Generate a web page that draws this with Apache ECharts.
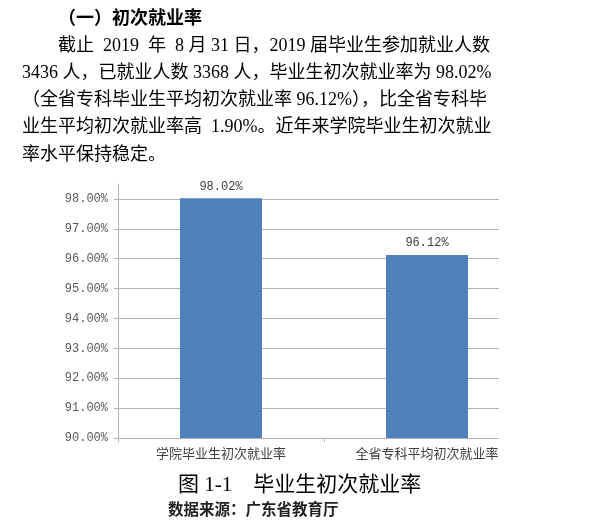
<!DOCTYPE html>
<html><head><meta charset="utf-8">
<script src="https://cdn.jsdelivr.net/npm/echarts@6/dist/echarts.min.js"></script>
<style>html,body{margin:0;padding:0;background:#fff}#c{width:614px;height:527px}</style>
</head><body><div id="c"></div>
<script>
const categories = ['学院毕业生初次就业率', '全省专科平均初次就业率'];
const rates = [98.02, 96.12];
const yTicks = [90, 91, 92, 93, 94, 95, 96, 97, 98];
const heading = '（一）初次就业率';
const paragraph = [
  '截止\u20022019\u2002年\u20028 月 31 日，2019 届毕业生参加就业人数',
  '3436 人，已就业人数 3368 人，毕业生初次就业率为 98.02%',
  '（全省专科毕业生平均初次就业率 96.12%），比全省专科毕',
  '业生平均初次就业率高\u20021.90%。近年来学院毕业生初次就业',
  '率水平保持稳定。'
];
const caption = '图 1-1　毕业生初次就业率';
const source = '数据来源：广东省教育厅';

const serif = '"Liberation Serif", "Noto Sans CJK SC", serif';
const mono = '"Liberation Mono", "DejaVu Sans Mono", monospace';
const cjk = '"Noto Sans CJK SC", sans-serif';

const gfx = [];
gfx.push({type:'text', left:58, top:8, style:{text:heading, font:'bold 18px ' + cjk, fill:'#000'}});
paragraph.forEach((t, i) => {
  gfx.push({type:'text', left: i === 0 ? 58 : 22, top: 37 + i * 27.2,
    style:{text:t, font:'18px ' + serif, fill:'#000'}});
});
gfx.push({type:'rect', shape:{x:499, y:170, width:115, height:280}, style:{fill:'#fff'}, z:100});
gfx.push({type:'text', left:178, top:475, style:{text:caption, font:'21px ' + serif, fill:'#000'}});
gfx.push({type:'text', left:168, top:503, style:{text:source, font:'bold 15.5px ' + serif, fill:'#222'}});

const chart = echarts.init(document.getElementById('c'), null, {renderer:'canvas'});
chart.setOption({
  animation:false,
  grid:{left:118, right:84, top:184, bottom:89, containLabel:false},
  xAxis:{type:'category', data:categories,
    axisLine:{lineStyle:{color:'#b3b3b3'}},
    axisTick:{show:true, length:4, lineStyle:{color:'#b3b3b3'}},
    axisLabel:{color:'#404040', fontSize:13, fontFamily:cjk, margin:9}},
  yAxis:{type:'value', min:90, max:98.5, interval:1,
    axisLine:{show:true, lineStyle:{color:'#b3b3b3'}},
    axisTick:{show:true, length:4, customValues:yTicks, lineStyle:{color:'#b3b3b3'}},
    axisLabel:{customValues:yTicks, color:'#595959', fontSize:12, fontFamily:mono, margin:10,
      formatter:v => v.toFixed(2) + '%'},
    splitLine:{show:true, lineStyle:{color:'#b3b3b3'}}},
  series:[{type:'bar', data:rates, barWidth:82,
    itemStyle:{color:'#4f81bd'},
    label:{show:true, position:'top', distance:6, color:'#404040', fontSize:12, fontFamily:mono,
      formatter:p => p.value.toFixed(2) + '%'}}],
  graphic:gfx
});
</script></body></html>
